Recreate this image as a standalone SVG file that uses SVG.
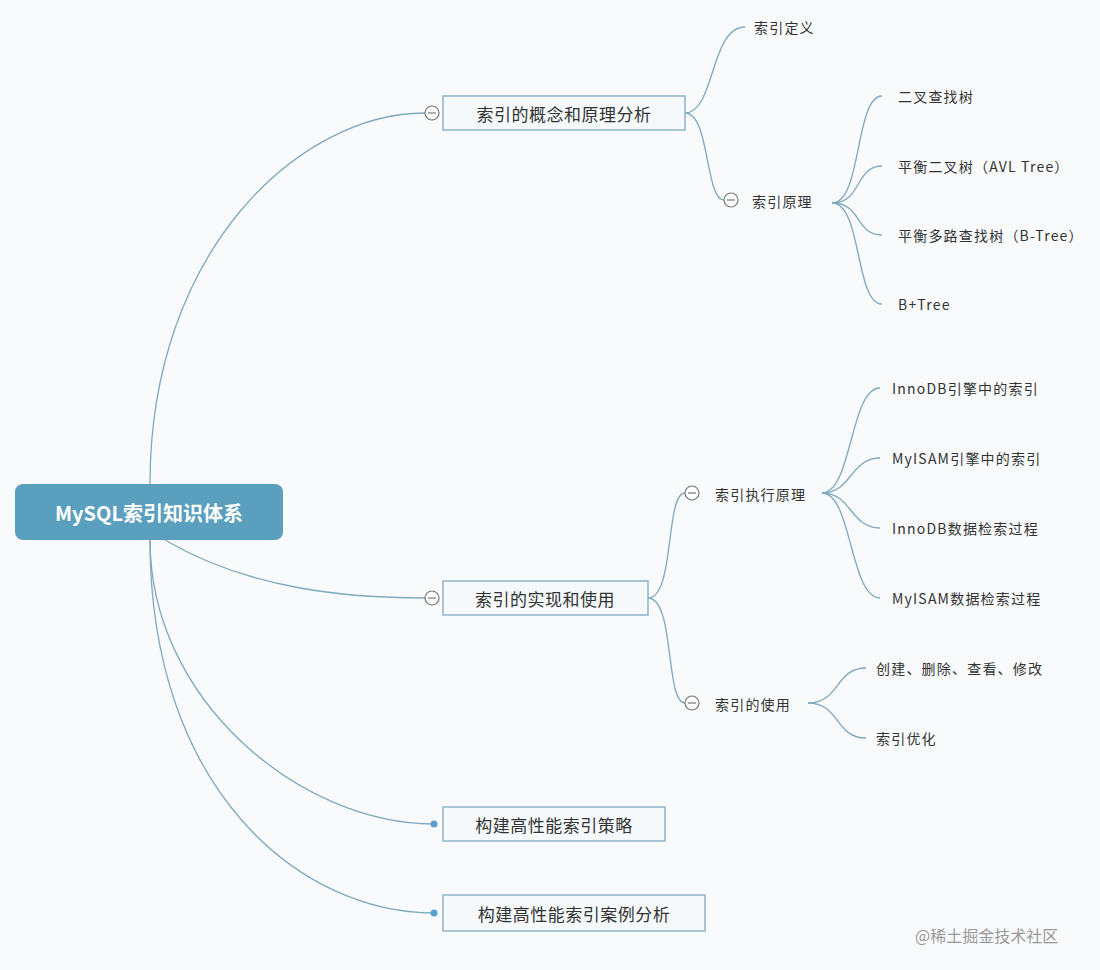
<svg xmlns="http://www.w3.org/2000/svg" width="1100" height="970" viewBox="0 0 1100 970">
<style>
text{font-family:"Noto Sans CJK SC","Liberation Sans",sans-serif;fill:#333;dominant-baseline:central}
.l1{font-size:17px;letter-spacing:0.5px}.l2{font-size:14px;letter-spacing:1.2px}
.box{fill:#f5f9fc;stroke:#8fb3c8;stroke-width:1.5}
.c{fill:none;stroke:#7fa9bf;stroke-width:1.3}
.tg{fill:#fff;stroke:#777;stroke-width:1.2}
.tl{stroke:#777;stroke-width:1.2}
</style>
<rect width="1100" height="970" fill="#f8fafc"/>
<g id="connectors">
<path class="c" d="M150,484 C150,250 300,113 425,113"/>
<path class="c" d="M165,540 C250,590 350,598 425,598"/>
<path class="c" d="M150,540 C150,700 300,824 434,824"/>
<path class="c" d="M150,540 C150,790 300,913 434,913"/>
<path class="c" d="M685,113 C715,113 710,27 745,27"/>
<path class="c" d="M685,113 C710,113 705,200 724,200"/>
<path class="c" d="M832,203 C862,203 855,96 882,96"/>
<path class="c" d="M832,203 C862,203 855,166 882,166"/>
<path class="c" d="M832,203 C862,203 855,235 882,235"/>
<path class="c" d="M832,203 C862,203 855,304 882,304"/>
<path class="c" d="M648,598 C675,598 665,493 685,493"/>
<path class="c" d="M648,598 C675,598 665,703 685,703"/>
<path class="c" d="M822,493 C852,493 850,388 880,388"/>
<path class="c" d="M822,493 C852,493 850,458 880,458"/>
<path class="c" d="M822,493 C852,493 850,528 880,528"/>
<path class="c" d="M822,493 C852,493 850,598 880,598"/>
<path class="c" d="M808,703 C840,703 835,668 866,668"/>
<path class="c" d="M808,703 C840,703 835,738 866,738"/>
</g>
<g id="root"><rect x="15" y="484" width="268" height="56" rx="8" fill="#5a9fbd"/><text x="149" y="512" text-anchor="middle" style="fill:#fff;font-size:20px;font-weight:bold">MySQL索引知识体系</text></g>
<g id="n1"><rect class="box" x="443" y="96" width="242" height="34"/><text class="l1" x="564" y="113" text-anchor="middle">索引的概念和原理分析</text><circle class="tg" cx="432" cy="113" r="7"/><line class="tl" x1="428" y1="113" x2="436" y2="113"/></g>
<g id="n2"><rect class="box" x="443" y="581" width="205" height="34"/><text class="l1" x="545" y="598" text-anchor="middle">索引的实现和使用</text><circle class="tg" cx="432" cy="598" r="7"/><line class="tl" x1="428" y1="598" x2="436" y2="598"/></g>
<g id="n3"><rect class="box" x="443" y="807" width="222" height="34"/><text class="l1" x="554" y="824" text-anchor="middle">构建高性能索引策略</text><circle cx="434" cy="824" r="3.5" fill="#5a9fd0"/></g>
<g id="n4"><rect class="box" x="443" y="895" width="262" height="36"/><text class="l1" x="574" y="913" text-anchor="middle">构建高性能索引案例分析</text><circle cx="434" cy="913" r="3.5" fill="#5a9fd0"/></g>
<g id="n1a"><text class="l2" x="754" y="27">索引定义</text></g>
<g id="n1b"><circle class="tg" cx="731" cy="200" r="7"/><line class="tl" x1="727" y1="200" x2="735" y2="200"/><text class="l2" x="752" y="201">索引原理</text></g>
<g id="t1"><text class="l2" x="898" y="96">二叉查找树</text></g>
<g id="t2"><text class="l2" x="898" y="166">平衡二叉树（AVL Tree）</text></g>
<g id="t3"><text class="l2" x="898" y="235">平衡多路查找树（B-Tree）</text></g>
<g id="t4"><text class="l2" x="898" y="304">B+Tree</text></g>
<g id="n2a"><circle class="tg" cx="692" cy="493" r="7"/><line class="tl" x1="688" y1="493" x2="696" y2="493"/><text class="l2" x="715" y="494">索引执行原理</text></g>
<g id="n2b"><circle class="tg" cx="692" cy="703" r="7"/><line class="tl" x1="688" y1="703" x2="696" y2="703"/><text class="l2" x="715" y="704">索引的使用</text></g>
<g id="e1"><text class="l2" x="892" y="388">InnoDB引擎中的索引</text></g>
<g id="e2"><text class="l2" x="892" y="458">MyISAM引擎中的索引</text></g>
<g id="e3"><text class="l2" x="892" y="528">InnoDB数据检索过程</text></g>
<g id="e4"><text class="l2" x="892" y="598">MyISAM数据检索过程</text></g>
<g id="u1"><text class="l2" x="876" y="668">创建、删除、查看、修改</text></g>
<g id="u2"><text class="l2" x="876" y="738">索引优化</text></g>
<text x="915" y="935" style="font-size:16px;fill:#999">@稀土掘金技术社区</text>
</svg>
